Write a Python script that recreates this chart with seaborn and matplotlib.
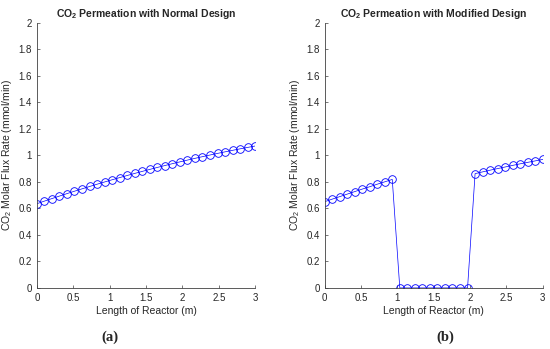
import numpy as np
import pandas as pd
import matplotlib
matplotlib.use("Agg")
import matplotlib.pyplot as plt
import seaborn as sns
from matplotlib.ticker import FormatStrFormatter

# reactor positions (30 grid points along 3 m)
length_m = np.linspace(0, 3, 30)

# normal design flux (mmol/min)
flux_normal = [
    0.635, 0.6545, 0.6737, 0.6926, 0.7111, 0.7293, 0.7472, 0.7648, 0.7820, 0.7990,
    0.8156, 0.8319, 0.8478, 0.8635, 0.8788, 0.8938, 0.9085, 0.9228, 0.9369, 0.9506,
    0.9640, 0.9771, 0.9898, 1.0023, 1.0144, 1.0262, 1.0376, 1.0488, 1.0596, 1.0701,
]

# modified design flux (mmol/min), no permeation in the middle section
flux_modified = [
    0.650, 0.669, 0.688, 0.707, 0.726, 0.745, 0.763, 0.782, 0.800, 0.818,
    0.0, 0.0, 0.0, 0.0, 0.0, 0.0, 0.0, 0.0, 0.0, 0.0,
    0.862, 0.875, 0.888, 0.900, 0.912, 0.924, 0.936, 0.947, 0.958, 0.969,
]

df = pd.DataFrame({"x": length_m, "normal": flux_normal, "modified": flux_modified})

sns.set_style("ticks")
plt.rcParams["font.family"] = ["Liberation Sans", "DejaVu Sans"]
plt.rcParams["mathtext.fontset"] = "custom"
plt.rcParams["mathtext.rm"] = "Liberation Sans"
plt.rcParams["mathtext.bf"] = "Liberation Sans:bold"
plt.rcParams["font.size"] = 7

fig = plt.figure(figsize=(5.5, 3.49), dpi=100)
ax1 = fig.add_axes([0.067, 0.175, 0.397, 0.760])
ax2 = fig.add_axes([0.590, 0.175, 0.397, 0.760])

axis_col = "#404040"
panels = [
    (ax1, "normal", r"CO$_\mathbf{2}$ Permeation with Normal Design", "(a)", 0.20),
    (ax2, "modified", r"CO$_\mathbf{2}$ Permeation with Modified Design", "(b)", 0.81),
]

for ax, col, title, tag, tx in panels:
    sns.lineplot(
        data=df, x="x", y=col, ax=ax,
        color="#0000ff", linewidth=0.5,
        marker="o", markersize=5.5, markerfacecolor="none",
        markeredgecolor="#0000ff", markeredgewidth=0.6,
    )
    ax.set_xlim(0, 3)
    ax.set_ylim(0, 2)
    ax.set_xticks(np.arange(0, 3.01, 0.5))
    ax.set_yticks(np.arange(0, 2.01, 0.2))
    ax.xaxis.set_major_formatter(FormatStrFormatter("%g"))
    ax.yaxis.set_major_formatter(FormatStrFormatter("%g"))
    ax.tick_params(direction="in", length=2.5, width=0.5, labelsize=7,
                   colors=axis_col, labelcolor="#262626")
    for s in ["top", "right"]:
        ax.spines[s].set_visible(False)
    for s in ["left", "bottom"]:
        ax.spines[s].set_color(axis_col)
        ax.spines[s].set_linewidth(0.6)
    ax.set_xlabel("Length of Reactor (m)", fontsize=7.5, color="#262626", labelpad=2)
    ax.set_ylabel(r"CO$_2$ Molar Flux Rate (mmol/min)", fontsize=7.5,
                  color="#262626", labelpad=3)
    ax.set_title(title, fontsize=7.5, fontweight="bold", pad=4)
    fig.text(tx, 0.035, tag, ha="center", va="center", fontsize=10.5,
             family="Liberation Serif", fontweight="bold")

fig.savefig("out.png", dpi=100)
